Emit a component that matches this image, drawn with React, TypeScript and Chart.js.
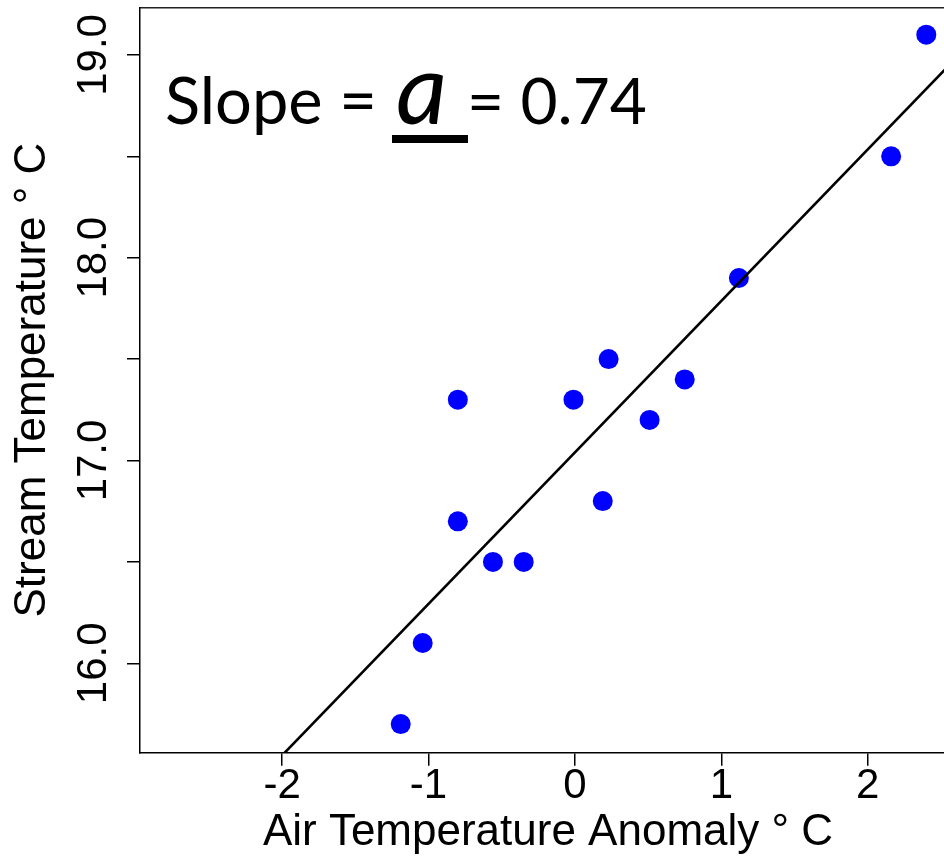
import React, { useEffect, useRef } from "react";
import { Chart, registerables } from "chart.js";

Chart.register(...registerables);

// Data
const airAnomaly = [2.4, 2.16, 1.12, 0.23, 0.75, -0.01, -0.8, 0.51, 0.19, -0.8, -0.56, -0.35, -1.04, -1.19];
const streamTemp = [19.1, 18.5, 17.9, 17.5, 17.4, 17.3, 17.3, 17.2, 16.8, 16.7, 16.5, 16.5, 16.1, 15.7];

// Fitted line: stream = intercept + slope * air
const fitIntercept = 17.04;
const fitSlope = 0.747;
const fitXRange = [-3.2, 3.2];

const xTickValues = [-2, -1, 0, 1, 2];
const xTickLabels = ["-2", "-1", "0", "1", "2"];
const yTickValues = [16, 16.5, 17, 17.5, 18, 18.5, 19];
const yTickLabels = ["16.0", "", "17.0", "", "18.0", "", "19.0"];

const xLimits = [-2.971, 2.603];
const yLimits = [15.559, 19.234];

const xTitle = "Air Temperature Anomaly \u00B0 C";
const yTitle = "Stream Temperature \u00B0 C";
const slopeParts = ["Slope =", "a", "= 0.74"];

const CANVAS_W = 956;
const VIEW_W = 944;
const VIEW_H = 857;

const TICK_FONT = { family: "'Liberation Sans', Arial, sans-serif", size: 42, lineHeight: 1 };
const TITLE_FONT = { family: "'Liberation Sans', Arial, sans-serif", size: 44, lineHeight: 1.1 };

const slopePlugin = {
  id: "slopeText",
  afterDraw(chart: any) {
    const { ctx, chartArea } = chart;
    const L = chartArea.left;
    const T = chartArea.top;
    ctx.save();
    ctx.fillStyle = "#000";
    ctx.textBaseline = "alphabetic";
    ctx.textAlign = "left";
    const baseY = T + 116.5;
    ctx.font = "65px Lato, 'Open Sans', sans-serif";
    ctx.fillText(slopeParts[0], L + 25, baseY);
    ctx.font = "italic 100px Lato, 'Open Sans', sans-serif";
    ctx.fillText(slopeParts[1], L + 256, baseY);
    ctx.fillRect(L + 252, T + 127.5, 76, 8);
    ctx.font = "64px Lato, 'Open Sans', sans-serif";
    ctx.fillText(slopeParts[2], L + 327, baseY);
    ctx.restore();
  },
};

export default function App() {
  const ref = useRef<HTMLCanvasElement | null>(null);

  useEffect(() => {
    document.body.style.margin = "0";
    document.body.style.overflow = "hidden";
    const canvas = ref.current!;
    const fitData = fitXRange.map((x) => ({ x, y: fitIntercept + fitSlope * x }));
    const pts = airAnomaly.map((x, i) => ({ x, y: streamTemp[i] }));

    const chart = new Chart(canvas, {
      type: "scatter",
      data: {
        datasets: [
          {
            label: "fit",
            data: fitData,
            showLine: true,
            borderColor: "#000",
            borderWidth: 2.6,
            pointRadius: 0,
            pointHoverRadius: 0,
            fill: false,
          },
          {
            label: "obs",
            data: pts,
            backgroundColor: "#0000FF",
            borderColor: "#0000FF",
            borderWidth: 0,
            pointRadius: 10,
            pointHoverRadius: 10,
          },
        ],
      },
      options: {
        responsive: false,
        animation: false,
        devicePixelRatio: 1,
        layout: { padding: 0, autoPadding: false },
        plugins: { legend: { display: false }, tooltip: { enabled: false } },
        events: [],
        scales: {
          x: {
            type: "linear",
            position: "bottom",
            min: xLimits[0],
            max: xLimits[1],
            afterBuildTicks: (s: any) => {
              s.ticks = xTickValues.map((v) => ({ value: v }));
            },
            afterFit: (s: any) => {
              s.height = 104.3;
              s.paddingLeft = 0;
              s.paddingRight = 0;
            },
            ticks: {
              autoSkip: false,
              maxRotation: 0,
              padding: 0,
              color: "#000",
              font: TICK_FONT,
              callback: (v: any) => {
                const i = xTickValues.indexOf(Number(v));
                return i >= 0 ? xTickLabels[i] : "";
              },
            },
            grid: {
              display: true,
              drawOnChartArea: false,
              drawTicks: true,
              tickLength: 13,
              color: "#000",
              lineWidth: 1.5,
            },
            border: { display: true, color: "#000", width: 1.5 },
            title: {
              display: true,
              text: xTitle,
              color: "#000",
              font: TITLE_FONT,
              padding: { top: 0, bottom: 0 },
            },
          },
          xTop: {
            type: "linear",
            axis: "x",
            position: "top",
            min: xLimits[0],
            max: xLimits[1],
            afterFit: (s: any) => {
              s.height = 7.5;
              s.paddingLeft = 0;
              s.paddingRight = 0;
            },
            ticks: { display: false },
            grid: { display: false, drawTicks: false },
            border: { display: true, color: "#222", width: 1.5 },
          },
          y: {
            type: "linear",
            position: "left",
            min: yLimits[0],
            max: yLimits[1],
            afterBuildTicks: (s: any) => {
              s.ticks = yTickValues.map((v) => ({ value: v }));
            },
            afterFit: (s: any) => {
              s.width = 140;
              s.paddingTop = 0;
              s.paddingBottom = 0;
            },
            ticks: {
              autoSkip: false,
              minRotation: 90,
              maxRotation: 90,
              crossAlign: "center",
              padding: -8,
              color: "#000",
              font: TICK_FONT,
              callback: (v: any) => {
                const i = yTickValues.findIndex((t) => Math.abs(t - Number(v)) < 1e-9);
                return i >= 0 ? yTickLabels[i] : "";
              },
            },
            grid: {
              display: true,
              drawOnChartArea: false,
              drawTicks: true,
              tickLength: 13,
              color: "#000",
              lineWidth: 1.5,
            },
            border: { display: true, color: "#000", width: 1.5 },
            title: {
              display: true,
              text: yTitle,
              color: "#000",
              font: TITLE_FONT,
              padding: { top: 8.6, bottom: 0 },
            },
          },
        },
      } as any,
      plugins: [slopePlugin],
    });
    return () => chart.destroy();
  }, []);

  return (
    <div style={{ width: VIEW_W, height: VIEW_H, overflow: "hidden", position: "relative" }}>
      <canvas
        ref={ref}
        width={CANVAS_W}
        height={VIEW_H}
        style={{ display: "block", width: CANVAS_W, height: VIEW_H }}
      />
    </div>
  );
}
